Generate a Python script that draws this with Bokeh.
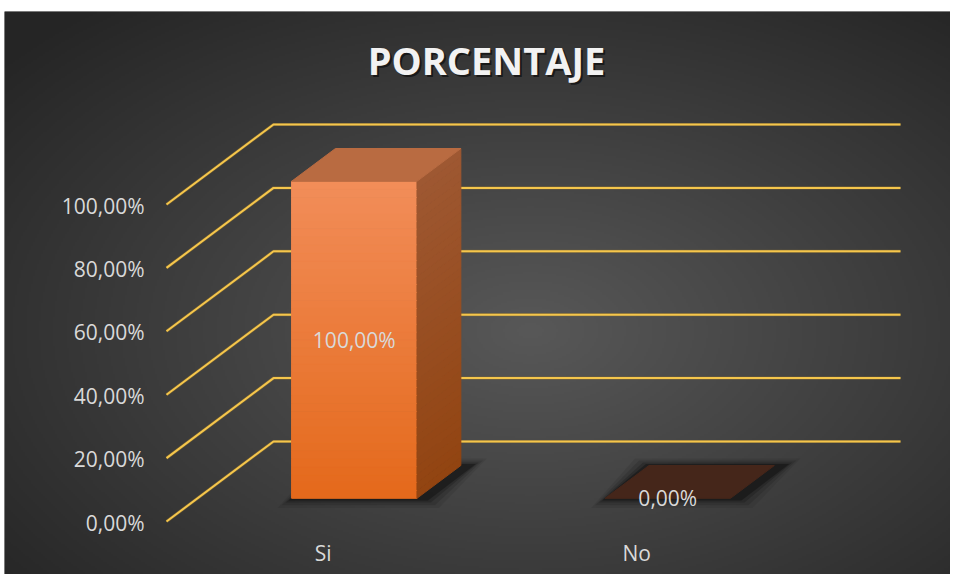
import numpy as np
from bokeh.plotting import figure
from bokeh.models import Range1d, ColumnDataSource
from bokeh.core.properties import value
from bokeh.embed import file_html
from bokeh.resources import INLINE

# ---------------- data ----------------
title_text = "PORCENTAJE"
categories = ["Si", "No"]
values = [100.0, 0.0]
value_labels = ["100,00%", "0,00%"]
y_ticks = [0, 20, 40, 60, 80, 100]
y_tick_labels = ["0,00%", "20,00%", "40,00%", "60,00%", "80,00%", "100,00%"]

# ---------------- layout / projection ----------------
W, H = 950, 574
FL, FT = 4, 11               # frame left / top inside the figure
X0_PAGE, XU = 166.0, 313.5   # px x of floor front-left corner, px per category
Y0_PAGE, YU = 521.0, 3.17    # px y of 0 % on the front plane, px per percentage point


def px_x(page_x):
    return (page_x - X0_PAGE) / XU


def px_y(page_y):
    return (Y0_PAGE - page_y) / YU


DX = 107.0 / XU      # depth vector (x units) for full floor depth
DY = 80.0 / YU       # depth vector (percent units) for full floor depth
BAR_W = 0.4          # bar width in category units
ZF, ZB = 0.29, 0.70  # bar front / back depth fractions

FONT = value("Open Sans")
TXT = "#d9d9d9"

xr = Range1d(px_x(FL), px_x(W))
yr = Range1d(px_y(H), px_y(FT))
p = figure(width=W, height=H, x_range=xr, y_range=yr, output_backend="svg",
           toolbar_location=None, min_border=0, min_border_left=FL,
           min_border_top=FT, x_axis_location=None, y_axis_location=None)
p.grid.visible = False
p.outline_line_color = None
p.background_fill_color = "#333333"
p.border_fill_color = "white"

# ---------------- radial background gradient ----------------
gw, gh = (W - FL) // 2, (H - FT) // 2
gx_ = FL + (np.arange(gw) + 0.5) * (W - FL) / gw
gy_ = FT + (np.arange(gh) + 0.5) * (H - FT) / gh
GX, GY = np.meshgrid(gx_, gy_)
r = np.sqrt(((GX - 530) / 480.0) ** 2 + ((GY - 330) / 290.0) ** 2)
t = np.clip(r / 1.45, 0, 1)
c = (0x58 + (0x25 - 0x58) * t).astype(np.uint8)
img = np.empty((gh, gw), dtype=np.uint32)
view = img.view(dtype=np.uint8).reshape((gh, gw, 4))
view[..., 0] = c
view[..., 1] = c
view[..., 2] = c
view[..., 3] = 255
img = np.ascontiguousarray(img[::-1])
p.image_rgba(image=[img], x=xr.start, y=yr.start, dw=xr.end - xr.start,
             dh=yr.end - yr.start)

# ---------------- gridlines (wall + side) ----------------
n = len(categories)
lx, ly = [], []
for tk in y_ticks:
    lx.append([0, DX, n + DX])
    ly.append([tk, tk + DY, tk + DY])
p.multi_line(lx, ly, line_color="#8a7030", line_width=3.2, line_alpha=0.6)
p.multi_line(lx, ly, line_color="#f5c64c", line_width=2)


def lerp_hex(a, b, f):
    a = [int(a[i:i + 2], 16) for i in (1, 3, 5)]
    b = [int(b[i:i + 2], 16) for i in (1, 3, 5)]
    return "#%02x%02x%02x" % tuple(int(round(a[k] + (b[k] - a[k]) * f)) for k in range(3))


# ---------------- bars ----------------
shadow_xs, shadow_ys, shadow_alpha = [], [], []
face_xs, face_ys, face_col = [], [], []
top_xs, top_ys, top_col = [], [], []
lab_x, lab_y = [], []
N = 40
for i, v in enumerate(values):
    xc = i + 0.5
    xl, xrt = xc - BAR_W / 2, xc + BAR_W / 2
    fx0, fx1 = xl + ZF * DX, xrt + ZF * DX
    bx0, bx1 = xl + ZB * DX, xrt + ZB * DX
    fy, by = ZF * DY, ZB * DY
    # blurred shadow of the footprint
    for k, a in [(14, 0.08), (10, 0.12), (6, 0.18), (3, 0.3)]:
        ex, ey = k / XU, k / YU
        shadow_xs.append([fx0 - ex, fx1 + ex + 8 / XU, bx1 + ex + 12 / XU, bx0 - ex])
        shadow_ys.append([fy - ey * 0.7, fy - ey * 0.7, by + ey * 0.5, by + ey * 0.5])
        shadow_alpha.append(a)
    if v > 0:
        for s in range(N):
            y0 = fy + v * s / N
            y1 = fy + v * (s + 1) / N
            f = (s + 0.5) / N
            # front face slice
            face_xs.append([fx0, fx1, fx1, fx0])
            face_ys.append([y0, y0, y1, y1])
            face_col.append(lerp_hex("#e4691b", "#f28d59", f))
            # side face slice
            face_xs.append([fx1, bx1, bx1, fx1])
            face_ys.append([y0, y0 + (by - fy), y1 + (by - fy), y1])
            face_col.append(lerp_hex("#924411", "#9e5832", f))
        top_col.append("#b96b41")
    else:
        top_col.append("#45261a")
    top_xs.append([fx0, fx1, bx1, bx0])
    top_ys.append([v + fy, v + fy, v + by, v + by])
    lab_x.append(xc + ZF * DX)
    lab_y.append(v / 2 + fy)

p.patches(shadow_xs, shadow_ys, fill_color="black", fill_alpha=shadow_alpha,
          line_color=None)
fsrc = ColumnDataSource(dict(xs=face_xs, ys=face_ys, c=face_col))
p.patches("xs", "ys", source=fsrc, fill_color="c", line_color="c", line_width=1)
tsrc = ColumnDataSource(dict(xs=top_xs, ys=top_ys, c=top_col))
p.patches("xs", "ys", source=tsrc, fill_color="c", line_color="c", line_width=1)

# ---------------- texts ----------------
p.text(x=lab_x, y=lab_y, text=value_labels, text_font=FONT, text_font_size="21px",
       text_color=TXT, text_align="center", text_baseline="middle")

p.text(x=[i + 0.5 for i in range(n)], y=[0] * n, text=categories, text_font=FONT,
       text_font_size="21px", text_color=TXT, text_align="center",
       text_baseline="middle", y_offset=31)

p.text(x=[0] * len(y_ticks), y=y_ticks, text=y_tick_labels, text_font=FONT,
       text_font_size="21px", text_color=TXT, text_align="right",
       text_baseline="middle", x_offset=-22, y_offset=1)

tx, ty = px_x(486), px_y(59)
p.text(x=[tx], y=[ty], text=[title_text], text_font=FONT, text_font_size="38px",
       text_font_style="bold", text_color="black", text_alpha=0.55,
       text_align="center", text_baseline="middle", x_offset=2, y_offset=2)
p.text(x=[tx], y=[ty], text=[title_text], text_font=FONT, text_font_size="38px",
       text_font_style="bold", text_color="#f2f2f2", text_align="center",
       text_baseline="middle")

open("out.html", "w").write(file_html(p, INLINE))
